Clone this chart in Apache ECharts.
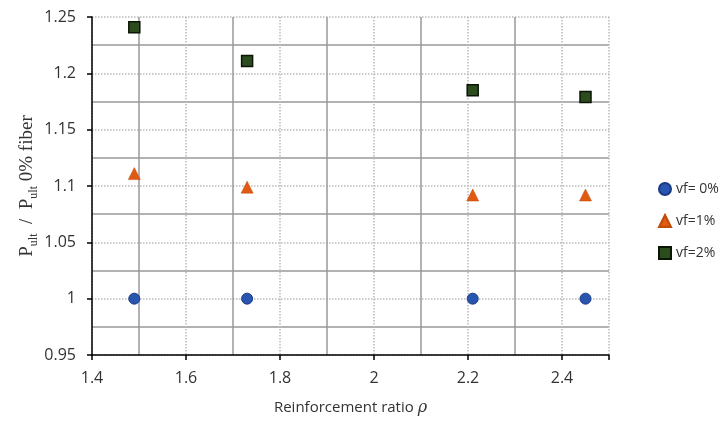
<!DOCTYPE html>
<html>
<head>
<meta charset="utf-8">
<script src="https://cdn.jsdelivr.net/npm/echarts@6/dist/echarts.min.js"></script>
<style>html,body{margin:0;padding:0;background:#fff}#c{width:722px;height:421px}</style>
</head>
<body>
<div id="c"></div>
<script>
var ratios = [1.49, 1.73, 2.21, 2.45];
var vf0 = [1.0, 1.0, 1.0, 1.0];
var vf1 = [1.111, 1.099, 1.092, 1.092];
var vf2 = [1.241, 1.211, 1.185, 1.179];
var seriesNames = ['vf= 0%', 'vf=1%', 'vf=2%'];

function pts(ys){ return ratios.map(function(x,i){ return [x, ys[i]]; }); }

var chart = echarts.init(document.getElementById('c'));
chart.setOption({
  animation: false,
  backgroundColor: '#fff',
  grid: {left: 92, right: 113, top: 17, bottom: 66},
  legend: {
    orient: 'vertical', left: 653, top: 177, itemGap: 18,
    itemWidth: 12, itemHeight: 12,
    textStyle: {fontFamily: 'Open Sans', fontSize: 14, color: '#333'},
    data: seriesNames
  },
  xAxis: {
    type: 'value', min: 1.4, max: 2.5, interval: 0.2,
    name: 'Reinforcement ratio {i|ρ}', nameLocation: 'middle', nameGap: 45,
    nameTextStyle: {fontFamily: 'Open Sans', fontSize: 15, color: '#333',
      rich: {i: {fontFamily: 'DejaVu Serif', fontStyle: 'italic', fontSize: 16, color: '#333'}}},
    axisLine: {show: true, lineStyle: {color: '#000', width: 1.5}},
    axisTick: {show: true, length: 5, inside: false, lineStyle: {color: '#000', width: 1.5}},
    axisLabel: {fontFamily: 'Open Sans', fontSize: 16, color: '#333', margin: 15, showMaxLabel: false,
      formatter: function(v){ return (Math.round(v*10)/10).toString(); }},
    splitLine: {show: true, lineStyle: {color: '#bbb', type: 'dotted', width: 1.5}},
    minorTick: {show: true, splitNumber: 2, length: 0},
    minorSplitLine: {show: true, lineStyle: {color: '#999', width: 1.5}}
  },
  yAxis: {
    type: 'value', min: 0.95, max: 1.25, interval: 0.05,
    name: '{m|P}{s|ult}{m|  /  P}{s|ult}{m| 0% fiber}', nameLocation: 'middle', nameGap: 55,
    nameMoveOverlap: false,
    nameTextStyle: {
      rich: {
        m: {fontFamily: 'Liberation Serif', fontSize: 19, color: '#333', lineHeight: 24, verticalAlign: 'bottom'},
        s: {fontFamily: 'Liberation Serif', fontSize: 12, color: '#333', lineHeight: 24, verticalAlign: 'bottom', padding: [0,0,-3,0]}
      }
    },
    axisLine: {show: true, lineStyle: {color: '#000', width: 1.5}},
    axisTick: {show: true, length: 5, inside: false, lineStyle: {color: '#000', width: 1.5}},
    axisLabel: {fontFamily: 'Open Sans', fontSize: 16, color: '#333', margin: 16,
      formatter: function(v){ return (Math.round(v*100)/100).toString(); }},
    splitLine: {show: true, lineStyle: {color: '#bbb', type: 'dotted', width: 1.5}},
    minorTick: {show: true, splitNumber: 2, length: 0},
    minorSplitLine: {show: true, lineStyle: {color: '#999', width: 1.5}}
  },
  series: [
    {name: seriesNames[0], type: 'scatter', data: pts(vf0), symbol: 'circle', symbolSize: 11,
      itemStyle: {color: '#2855b0', borderColor: '#1a3a86', borderWidth: 1, opacity: 1}},
    {name: seriesNames[1], type: 'scatter', data: pts(vf1), symbol: 'triangle', symbolSize: 12,
      itemStyle: {color: '#e05a12', borderColor: '#c04a0a', borderWidth: 0.5, opacity: 1}},
    {name: seriesNames[2], type: 'scatter', data: pts(vf2), symbol: 'rect', symbolSize: 11,
      itemStyle: {color: '#2c4c1e', borderColor: '#0a1506', borderWidth: 1.5, opacity: 1}}
  ]
});
</script>
</body>
</html>
